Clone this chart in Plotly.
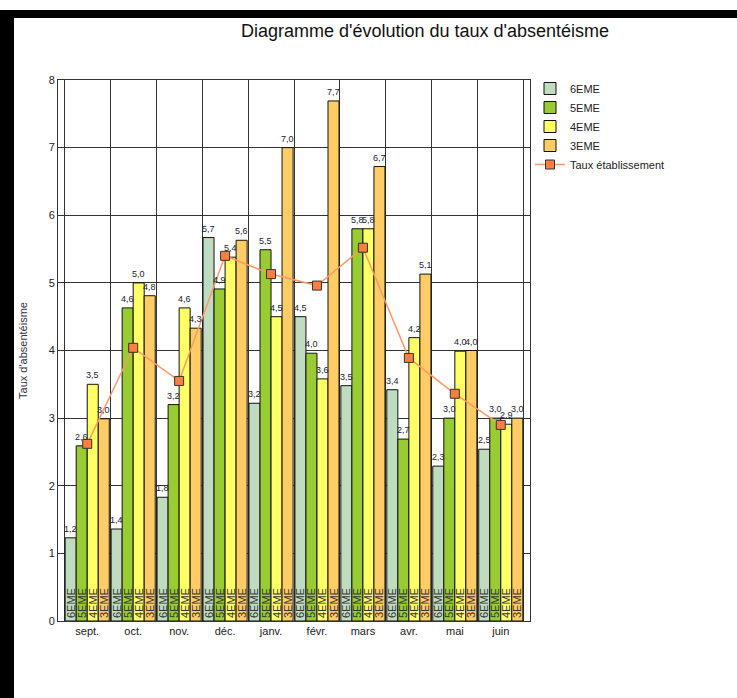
import plotly.graph_objects as go

MONTHS = ["sept.", "oct.", "nov.", "déc.", "janv.", "févr.", "mars", "avr.", "mai", "juin"]
SIXIEME = [1.23, 1.36, 1.83, 5.67, 3.22, 4.50, 3.48, 3.42, 2.29, 2.54]
CINQUIEME = [2.59, 4.63, 3.20, 4.91, 5.49, 3.96, 5.80, 2.69, 3.00, 3.00]
QUATRIEME = [3.50, 5.00, 4.63, 5.38, 4.50, 3.58, 5.80, 4.19, 3.99, 2.91]
TROISIEME = [2.99, 4.81, 4.33, 5.63, 7.00, 7.69, 6.72, 5.13, 4.00, 3.00]
TAUX = [2.62, 4.04, 3.55, 5.40, 5.13, 4.96, 5.52, 3.89, 3.36, 2.90]

LEVELS = ["6EME", "5EME", "4EME", "3EME"]
COLORS = ["#c0dcc0", "#99cc33", "#ffff66", "#ffcc66"]
SERIES = [SIXIEME, CINQUIEME, QUATRIEME, TROISIEME]

W, H = 737, 698
L, R, T, B = 58, 207, 80, 77
PW, PH = W - L - R, H - T - B
BARGAP = 0.04


def px_x(x):
    return (x - L) / PW


def px_y(y):
    return (H - B - y) / PH


fig = go.Figure()

for name, color, vals in zip(LEVELS, COLORS, SERIES):
    fig.add_trace(go.Bar(
        x=MONTHS, y=vals, name=name,
        marker=dict(color=color, line=dict(color="#111", width=1)),
        text=[name] * len(vals),
        textposition="inside", insidetextanchor="start", textangle=-90,
        constraintext="none",
        textfont=dict(size=11, color="#333"),
    ))

fig.add_trace(go.Scatter(
    x=MONTHS, y=TAUX, name="Taux établissement",
    mode="lines+markers",
    line=dict(color="#ff9966", width=1.5),
    marker=dict(symbol="square", size=9, color="#ff7f3f", line=dict(color="#333", width=1)),
))

# value labels above each bar
bw = (1 - BARGAP) / 4
for k, vals in enumerate(SERIES):
    for i, v in enumerate(vals):
        fig.add_annotation(
            x=i - (1 - BARGAP) / 2 + (k + 0.5) * bw, y=v,
            xref="x", yref="y",
            text=f"{v:.1f}".replace(".", ","),
            showarrow=False, yanchor="bottom", yshift=2,
            font=dict(size=9, color="#223"),
        )

# black frame (top and left)
fig.add_shape(type="rect", xref="paper", yref="paper",
              x0=px_x(0), x1=px_x(W), y0=px_y(18), y1=px_y(10),
              fillcolor="black", line_width=0)
fig.add_shape(type="rect", xref="paper", yref="paper",
              x0=px_x(0), x1=px_x(14), y0=px_y(H), y1=px_y(10),
              fillcolor="black", line_width=0)

fig.update_xaxes(
    type="category", tickson="boundaries", ticks="",
    showgrid=True, gridcolor="#333", gridwidth=1,
    showline=True, mirror=True, linecolor="#333",
    tickfont=dict(size=11, color="#222"),
    automargin=False,
)
fig.update_yaxes(
    range=[0, 8], dtick=1, ticks="",
    showgrid=True, gridcolor="#333", gridwidth=1,
    showline=True, mirror=True, linecolor="#333",
    zeroline=False, automargin=False,
    tickfont=dict(size=11, color="#222"),
    title=dict(text="Taux d'absentéisme", font=dict(size=11, color="#334"), standoff=18),
)

fig.update_layout(
    width=W, height=H,
    margin=dict(l=L, r=R, t=T, b=B, autoexpand=False),
    barmode="group", bargap=BARGAP, bargroupgap=0,
    separators=", ",
    paper_bgcolor="white", plot_bgcolor="white",
    font=dict(family="Liberation Sans, Arial, sans-serif", color="#222"),
    title=dict(
        text="Diagramme d'évolution du taux d'absentéisme",
        x=px_x(425), xref="paper", xanchor="center",
        y=1 - 31 / H, yref="container", yanchor="middle",
        font=dict(size=18, color="#111"),
    ),
    legend=dict(
        x=px_x(530), y=px_y(74), xanchor="left", yanchor="top",
        font=dict(size=11, color="#222"),
        bgcolor="rgba(0,0,0,0)", tracegroupgap=0,
    ),
)

fig.write_html(
    "out.html",
    config={"displayModeBar": False},
    post_script="document.body.style.margin='0';",
)
